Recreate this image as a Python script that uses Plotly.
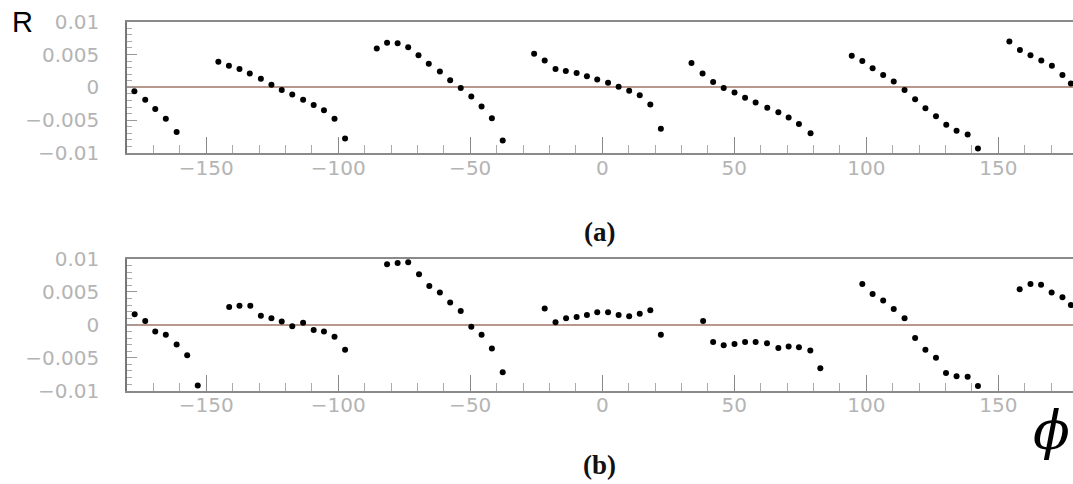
import plotly.graph_objects as go

# ---------------- data ----------------
phi_a = [-177.2, -173.1, -169.3, -165.3, -161.2,
         -145.4, -141.4, -137.4, -133.5, -129.3, -125.3, -121.4, -117.4, -113.3, -109.3, -105.4, -101.4, -97.4,
         -85.4, -81.5, -77.5, -73.5, -69.6, -65.7, -61.5, -57.6, -53.6, -49.6, -45.7, -41.8, -37.7,
         -25.8, -21.8, -17.7, -13.8, -9.7, -5.8, -1.9, 2.2, 6.2, 10.2, 14.2, 18.2, 22.2,
         33.8, 38.0, 42.0, 46.0, 50.1, 54.1, 58.1, 62.5, 66.7, 70.6, 74.5, 78.9,
         94.5, 98.5, 102.4, 106.4, 110.4, 114.5, 118.5, 122.4, 126.4, 130.3, 134.2, 138.4, 142.3,
         154.2, 158.2, 162.2, 166.3, 170.3, 174.3, 177.5]
r_a = [-0.0006, -0.0019, -0.0033, -0.0048, -0.0068,
       0.0039, 0.0033, 0.0028, 0.0021, 0.0013, 0.0004, -0.0004, -0.0011, -0.0019, -0.0027, -0.0035, -0.0048, -0.0078,
       0.0059, 0.0068, 0.0067, 0.0061, 0.0049, 0.0036, 0.0024, 0.0011, -0.0001, -0.0014, -0.0029, -0.0047, -0.0081,
       0.0051, 0.0041, 0.0028, 0.0025, 0.0022, 0.0017, 0.0012, 0.0007, 0.0001, -0.0005, -0.0012, -0.0026, -0.0063,
       0.0037, 0.0021, 0.0008, -0.0001, -0.0008, -0.0016, -0.0023, -0.0031, -0.0038, -0.0046, -0.0056, -0.0070,
       0.0048, 0.0040, 0.0029, 0.0019, 0.0009, -0.0004, -0.0018, -0.0032, -0.0044, -0.0057, -0.0066, -0.0072, -0.0093,
       0.0070, 0.0057, 0.0049, 0.0041, 0.0033, 0.0019, 0.0006]

phi_b = [-177.1, -173.1, -169.3, -165.3, -161.2, -157.2, -153.2,
         -141.3, -137.4, -133.3, -129.3, -125.3, -121.4, -117.4, -113.3, -109.3, -105.4, -101.4, -97.4,
         -81.5, -77.5, -73.5, -69.4, -65.5, -61.5, -57.6, -53.6, -49.6, -45.7, -41.8, -37.7,
         -21.8, -17.7, -13.7, -9.7, -5.8, -1.9, 2.2, 6.2, 10.2, 14.2, 18.2, 22.2,
         38.2, 42.0, 46.0, 50.1, 54.1, 58.1, 62.4, 66.7, 70.6, 74.5, 78.8, 82.6,
         98.5, 102.4, 106.4, 110.4, 114.5, 118.5, 122.4, 126.4, 130.2, 134.2, 138.4, 142.3,
         158.1, 162.2, 166.2, 170.2, 174.3, 177.5]
r_b = [0.0016, 0.0006, -0.0010, -0.0015, -0.0030, -0.0046, -0.0092,
       0.0027, 0.0029, 0.0029, 0.0014, 0.0010, 0.0005, -0.0002, 0.0003, -0.0008, -0.0010, -0.0018, -0.0038,
       0.0092, 0.0094, 0.0095, 0.0077, 0.0059, 0.0049, 0.0034, 0.0021, -0.0003, -0.0015, -0.0036, -0.0072,
       0.0025, 0.0004, 0.0010, 0.0012, 0.0015, 0.0019, 0.0019, 0.0015, 0.0013, 0.0017, 0.0022, -0.0015,
       0.0006, -0.0026, -0.0031, -0.0029, -0.0026, -0.0026, -0.0028, -0.0035, -0.0033, -0.0034, -0.0039, -0.0066,
       0.0062, 0.0047, 0.0037, 0.0024, 0.0010, -0.0020, -0.0038, -0.0050, -0.0073, -0.0078, -0.0079, -0.0093,
       0.0054, 0.0062, 0.0061, 0.0049, 0.0042, 0.0030]

x_tickvals = [-150, -100, -50, 0, 50, 100, 150]
y_tickvals = [-0.01, -0.005, 0, 0.005, 0.01]
y_ticktext = ["\u22120.01", "\u22120.005", "0", "0.005", "0.01"]

# ---------------- figure ----------------
W, H = 1073, 484
fig = go.Figure()
marker = dict(color="black", size=6)
fig.add_trace(go.Scatter(x=phi_a, y=r_a, mode="markers", marker=marker, xaxis="x", yaxis="y",
                         showlegend=False, cliponaxis=False))
fig.add_trace(go.Scatter(x=phi_b, y=r_b, mode="markers", marker=marker, xaxis="x2", yaxis="y2",
                         showlegend=False, cliponaxis=False))

lab_font = dict(family="DejaVu Sans", size=20, color="#b4b4b4")
x_left = 127 / W
xr = [-180, 178.3]

def xax(anchor):
    return dict(domain=[x_left, 1], range=xr, anchor=anchor, automargin=False,
                tickvals=x_tickvals, ticks="inside", ticklen=16, tickwidth=1.2, tickcolor="#888",
                minor=dict(dtick=10, tick0=0, ticks="inside", ticklen=8, tickcolor="#aaa", tickwidth=1),
                showline=True, linecolor="#8a8a8a", linewidth=1.5, mirror=True,
                showgrid=False, zeroline=False, tickfont=lab_font, ticklabelstandoff=-4)

def yax(dom, anchor):
    return dict(domain=dom, range=[-0.01, 0.01], anchor=anchor, automargin=False,
                tickvals=y_tickvals, ticktext=y_ticktext, ticks="inside", ticklen=10, tickwidth=1,
                tickcolor="#999",
                minor=dict(dtick=0.001, tick0=0, ticks="inside", ticklen=5, tickcolor="#aaa", tickwidth=1),
                showline=True, linecolor="#777", linewidth=1.5, mirror=False,
                showgrid=False, zeroline=True, zerolinecolor="#b8988c", zerolinewidth=1.5,
                tickfont=lab_font, ticklabelstandoff=22)

fig.update_layout(
    width=W, height=H, margin=dict(l=0, r=0, t=0, b=0),
    paper_bgcolor="white", plot_bgcolor="white",
    xaxis=xax("y"), yaxis=yax([1 - 153 / H, 1 - 21.7 / H], "x"),
    xaxis2=xax("y2"), yaxis2=yax([1 - 390.7 / H, 1 - 259 / H], "x2"),
)

anns = [
    dict(text="R", x=22 / W, y=1 - 22 / H, font=dict(family="Liberation Sans", size=29, color="black")),
    dict(text="<b>(a)</b>", x=599 / W, y=1 - 232 / H, font=dict(family="Liberation Serif", size=27, color="#111")),
    dict(text="<b>(b)</b>", x=599 / W, y=1 - 465 / H, font=dict(family="Liberation Serif", size=27, color="#111")),
    dict(text="<i>\u03d5</i>", x=1051 / W, y=1 - 430 / H, font=dict(family="DejaVu Serif", size=54, color="black")),
]
for a in anns:
    fig.add_annotation(xref="paper", yref="paper", xanchor="center", yanchor="middle", showarrow=False, **a)

fig.write_html("out.html")
